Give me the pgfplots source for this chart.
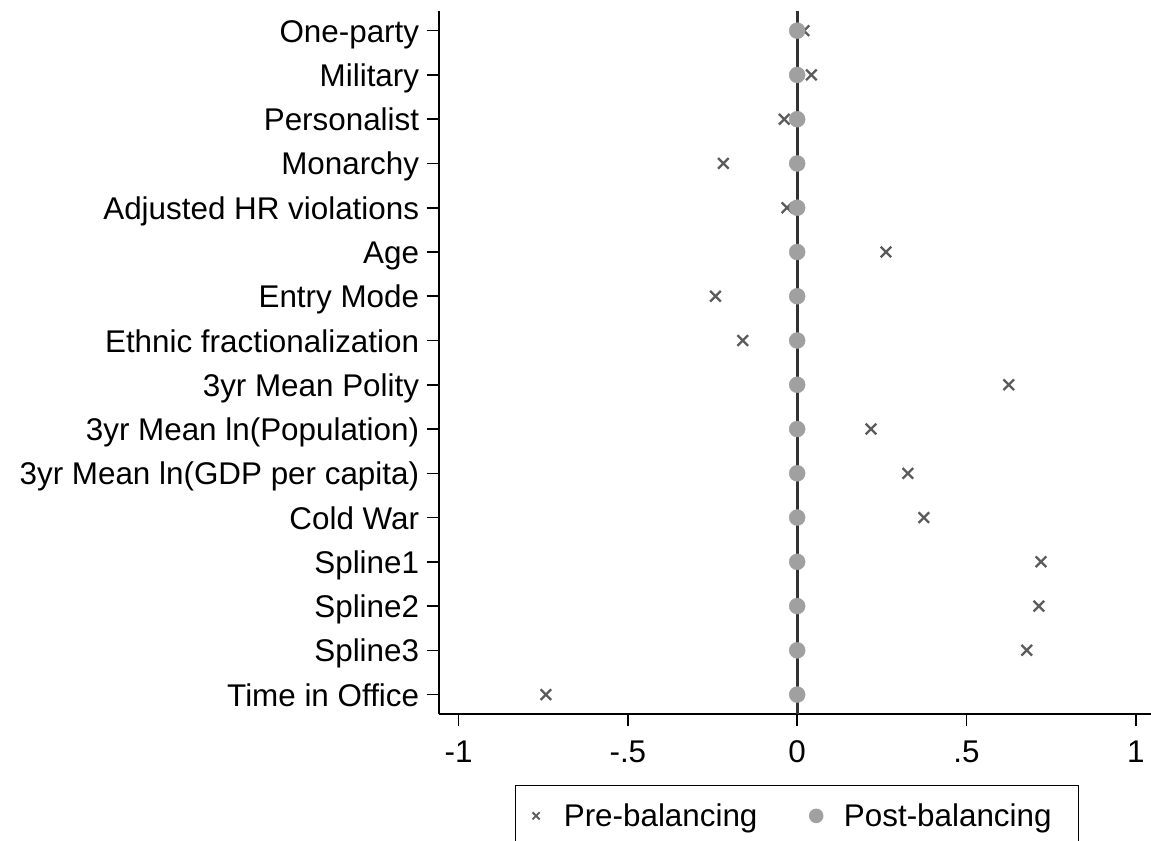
\documentclass[border=0pt]{standalone}
\usepackage{pgfplots}
\pgfplotsset{compat=1.18}
\usepackage{fontspec}
\setmainfont{Liberation Sans}
\definecolor{crossgray}{RGB}{92,92,92}
\definecolor{circgray}{RGB}{160,160,160}
\definecolor{zerol}{RGB}{50,50,50}
\begin{document}
\begin{tikzpicture}[x=1bp,y=1bp]
\useasboundingbox (0,0) rectangle (1151,841);
\begin{axis}[
  at={(438.6bp,126.7bp)}, anchor=south west,
  scale only axis, width=712.4bp, height=703.3bp,
  xmin=-1.059, xmax=1.045, ymin=0.555, ymax=16.445, y dir=reverse,
  axis x line*=bottom, axis y line*=left,
  xtick={-1,-0.5,0,0.5,1}, xticklabels={-1,-.5,0,.5,1},
  ytick={1,...,16},
  yticklabels={One-party,Military,Personalist,Monarchy,Adjusted HR violations,Age,Entry Mode,Ethnic fractionalization,3yr Mean Polity,3yr Mean ln(Population),3yr Mean ln(GDP per capita)\ ,Cold War,Spline1,Spline2,Spline3,Time in Office},
  tick align=outside, major tick length=12bp,
  tick style={black, line width=1.6bp},
  axis line style={black, line width=1.8bp},
  ticklabel style={font=\fontsize{31.5}{31.5}\selectfont},
  xticklabel style={yshift=-11bp},
  yticklabel style={anchor=base east, xshift=-4bp, yshift=-11.5bp},
  clip=false,
  legend columns=2,
  legend cell align=left,
  legend image code/.code={\path (0bp,0bp) (35bp,0bp); \draw[#1] plot coordinates {(10bp,0bp)};},
  legend style={at={(0.503,-0.1005)}, anchor=north, draw=black, line width=1.5bp,
    font=\fontsize{31.5}{31.5}\selectfont, inner xsep=10bp, inner ysep=16bp,
    /tikz/every even column/.append style={column sep=46bp}},
]
\addplot[forget plot, color=zerol, line width=3bp] coordinates {(0,0.555) (0,16.445)};
\addplot[only marks, mark=x, mark size=7.5bp, mark options={draw=crossgray, line width=2.3bp},
  legend image post style={mark size=5bp, mark options={draw=crossgray, line width=1.8bp}}] coordinates {
(0.020,1) (0.042,2) (-0.038,3) (-0.218,4) (-0.030,5) (0.262,6) (-0.241,7) (-0.161,8)
(0.625,9) (0.218,10) (0.327,11) (0.374,12) (0.720,13) (0.714,14) (0.678,15) (-0.742,16)};
\addplot[only marks, mark=*, mark size=8bp, mark options={fill=circgray, draw=circgray},
  legend image post style={mark size=6.5bp}] coordinates {
(0,1) (0,2) (0,3) (0,4) (0,5) (0,6) (0,7) (0,8)
(0,9) (0,10) (0,11) (0,12) (0,13) (0,14) (0,15) (0,16)};
\legend{Pre-balancing, Post-balancing\rule{15bp}{0pt}}
\end{axis}
\end{tikzpicture}
\end{document}
